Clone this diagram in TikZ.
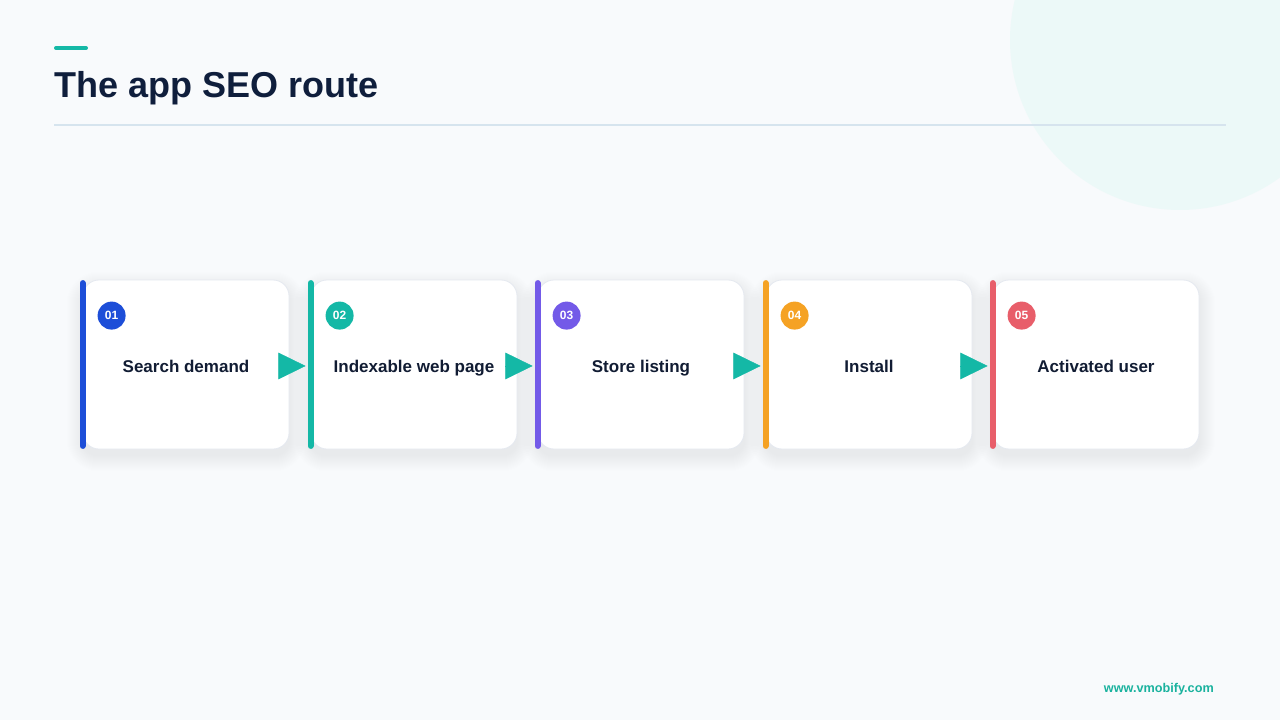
\documentclass[tikz,border=0pt]{standalone}
\usepackage{fontspec}
\setmainfont{Liberation Sans}
\usetikzlibrary{arrows.meta,calc}

\pgfdeclarelayer{background}
\pgfsetlayers{background,main}

\tikzset{every picture/.style={line width=0.75pt}}
\tikzset{
  card/.style={draw={rgb, 255:red, 229; green, 233; blue, 240}, line width=0.6pt, fill=white, rounded corners=12pt,
    minimum width=154.5pt, minimum height=126.75pt, inner sep=0pt, text height=12pt, text depth=0pt,
    text={rgb, 255:red, 17; green, 28; blue, 51}, font=\bfseries\fontsize{12.75}{15}\selectfont},
  sidebar/.style={line width=4.5pt, line cap=round},
  badge/.style={circle, minimum size=21pt, inner sep=0pt, text=white, font=\bfseries\fontsize{9}{10}\selectfont},
  flow/.style={draw={rgb, 255:red, 20; green, 184; blue, 166}, line width=0.4pt, shorten >=3.75pt,
    -{Triangle[length=20.5pt, width=20pt, fill={rgb, 255:red, 20; green, 184; blue, 166}]}}
}
% soft shadow under a card
\newcommand{\cardshadow}[1]{
  \begin{pgfonlayer}{background}
    \foreach \s in {1,...,16}
      \fill [black, opacity=0.0045, rounded corners=12pt+0.75*\s pt] ($(#1.north west)+(-\s,-\s+8)$) rectangle ($(#1.south east)+(\s,\s+6)$);
  \end{pgfonlayer}
}

\begin{document}
\begin{tikzpicture}[x=0.75pt,y=0.75pt,yscale=-1,xscale=1]
	\useasboundingbox (0,0) rectangle (1280,720);
	%background and corner circle
	\begin{pgfonlayer}{background}
		\fill [color={rgb, 255:red, 248; green, 250; blue, 252 }] (0,0) rectangle (1280,720);
		\begin{scope}
			\clip (0,0) rectangle (1280,720);
			\fill [color={rgb, 255:red, 236; green, 249; blue, 248 }] (1180,40) circle [radius=170];
		\end{scope}
	\end{pgfonlayer}

	%header
	\draw [color={rgb, 255:red, 20; green, 184; blue, 166 }, line width=3pt, line cap=round] (56,48) -- (86,48);
	\node (title) [anchor=base west, inner sep=0pt, text={rgb, 255:red, 15; green, 30; blue, 60 }, font=\bfseries\fontsize{27}{32}\selectfont] at (54,98) {The app SEO route};
	\draw [color={rgb, 255:red, 214; green, 228; blue, 238 }, line width=1.1pt] (54,125) -- (1226,125);

	%cards
	\node [card] (c1) at (186,364.5) {Search demand};
	\node [card] (c2) at (414,364.5) {Indexable web page};
	\node [card] (c3) at (641,364.5) {Store listing};
	\node [card] (c4) at (869,364.5) {Install};
	\node [card] (c5) at (1096,364.5) {Activated user};
	\cardshadow{c1} \cardshadow{c2} \cardshadow{c3} \cardshadow{c4} \cardshadow{c5}

	%coloured side bars
	\draw [sidebar, color={rgb, 255:red, 29; green, 78; blue, 216 }] ([yshift=2.6pt]c1.north west) -- ([yshift=-2.6pt]c1.south west);
	\draw [sidebar, color={rgb, 255:red, 20; green, 184; blue, 166 }] ([yshift=2.6pt]c2.north west) -- ([yshift=-2.6pt]c2.south west);
	\draw [sidebar, color={rgb, 255:red, 115; green, 90; blue, 232 }] ([yshift=2.6pt]c3.north west) -- ([yshift=-2.6pt]c3.south west);
	\draw [sidebar, color={rgb, 255:red, 245; green, 162; blue, 36 }] ([yshift=2.6pt]c4.north west) -- ([yshift=-2.6pt]c4.south west);
	\draw [sidebar, color={rgb, 255:red, 232; green, 94; blue, 106 }] ([yshift=2.6pt]c5.north west) -- ([yshift=-2.6pt]c5.south west);

	%step numbers
	\node [badge, fill={rgb, 255:red, 29; green, 78; blue, 216 }] (n1) at ($(c1.north west)+(29,36)$) {01};
	\node [badge, fill={rgb, 255:red, 20; green, 184; blue, 166 }] (n2) at ($(c2.north west)+(29,36)$) {02};
	\node [badge, fill={rgb, 255:red, 115; green, 90; blue, 232 }] (n3) at ($(c3.north west)+(29,36)$) {03};
	\node [badge, fill={rgb, 255:red, 245; green, 162; blue, 36 }] (n4) at ($(c4.north west)+(29,36)$) {04};
	\node [badge, fill={rgb, 255:red, 232; green, 94; blue, 106 }] (n5) at ($(c5.north west)+(29,36)$) {05};

	%arrows between steps
	\draw [flow] ([xshift=-8.25pt,yshift=1.1pt]c1.east) -- ([yshift=1.1pt]c2.west);
	\draw [flow] ([xshift=-8.25pt,yshift=1.1pt]c2.east) -- ([yshift=1.1pt]c3.west);
	\draw [flow] ([xshift=-8.25pt,yshift=1.1pt]c3.east) -- ([yshift=1.1pt]c4.west);
	\draw [flow] ([xshift=-8.25pt,yshift=1.1pt]c4.east) -- ([yshift=1.1pt]c5.west);

	%footer
	\node (site) [anchor=base east, inner sep=0pt, text={rgb, 255:red, 26; green, 178; blue, 158 }, font=\bfseries\fontsize{9.5}{11}\selectfont] at (1214,692) {www.vmobify.com};

\end{tikzpicture}
\end{document}
